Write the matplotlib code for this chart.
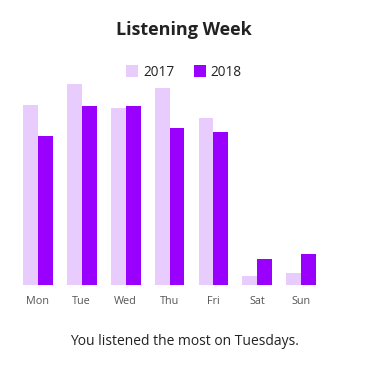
import matplotlib
matplotlib.use('Agg')
from matplotlib import pyplot as plt
import numpy as np

plt.rcParams['font.family'] = ['Open Sans', 'DejaVu Sans']

# listening per weekday (arbitrary units)
days = ['Mon', 'Tue', 'Wed', 'Thu', 'Fri', 'Sat', 'Sun']
y2017 = [180, 201, 177, 197, 167, 9, 12]
y2018 = [149, 179, 179, 157, 153, 26, 31]

c2017 = '#e8ccfe'
c2018 = '#9900fe'

fig = plt.figure(figsize=(3.68, 3.70), dpi=100)
ax = fig.add_axes([0.0427, 0.2297, 0.836, 0.554])

x = np.arange(len(days))
w = 0.34
ax.bar(x - w / 2, y2017, width=w, color=c2017, label='2017')
ax.bar(x + w / 2, y2018, width=w, color=c2018, label='2018')

ax.set_xlim(-0.5, len(days) - 0.5)
ax.set_ylim(0, 205)
ax.set_xticks(x)
ax.set_xticklabels(days, fontsize=7.8, color='#555555')
ax.tick_params(axis='x', length=0, pad=8)
ax.set_yticks([])
for s in ax.spines.values():
    s.set_visible(False)

fig.text(0.5, 0.918, 'Listening Week', ha='center', va='center',
         fontsize=13, fontweight='bold', color='#222222')

fig.legend(loc='center', bbox_to_anchor=(0.5, 0.805), ncol=2, frameon=False,
           fontsize=9.8, handlelength=0.9, handleheight=0.9,
           handletextpad=0.37, columnspacing=1.4, labelcolor='#222222')

fig.text(0.5, 0.078, 'You listened the most on Tuesdays.', ha='center',
         va='center', fontsize=10, color='#222222')

fig.savefig('out.png', dpi=100)
